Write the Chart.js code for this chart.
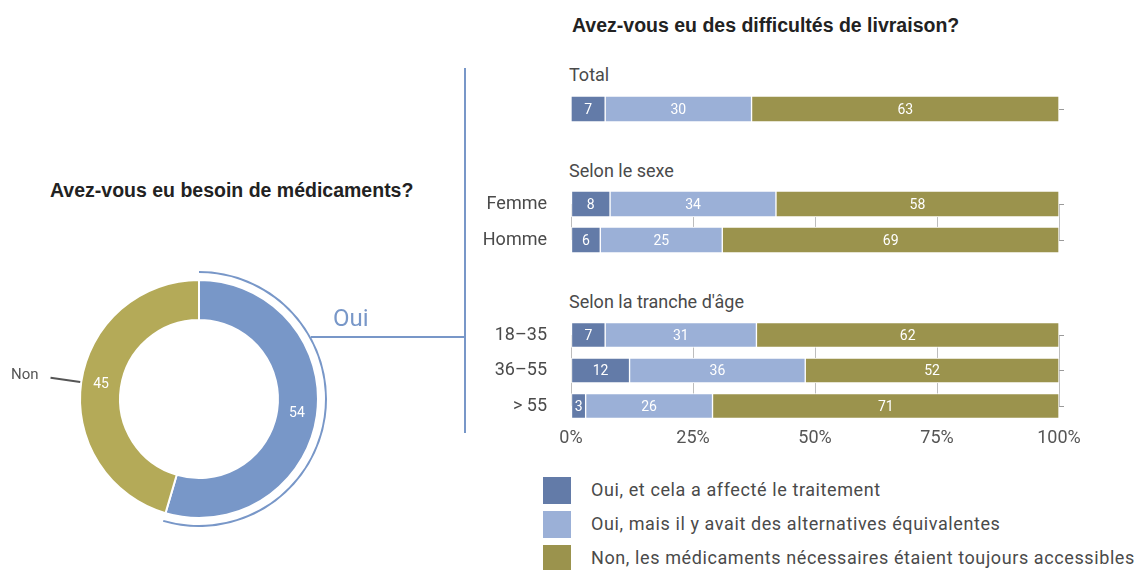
<!DOCTYPE html>
<html lang="fr">
<head>
<meta charset="utf-8">
<title>Médicaments et livraison</title>
<script src="https://cdn.jsdelivr.net/npm/chart.js@4"></script>
<style>
  body { margin: 0; background: #fff; font-family: Roboto, sans-serif; color: #4a4a4a; }
  #page { position: relative; width: 1143px; height: 570px; overflow: hidden; }
  .abs { position: absolute; white-space: nowrap; line-height: 20px; }
  .title { font-family: "Liberation Sans", Arial, sans-serif; font-weight: bold; font-size: 19.5px; color: #222; }
  .group { font-size: 18px; color: #4a4a4a; }
  .chartbox { position: absolute; }
  .line { position: absolute; background: #7897c8; }
  .legend-item { position: absolute; left: 543px; height: 27px; }
  .legend-item span.sw { position: absolute; left: 0; top: 0; width: 28px; height: 27px; }
  .legend-item span.tx { position: absolute; left: 48px; top: 3px; font-size: 18px; line-height: 20px; letter-spacing: 0.6px; white-space: nowrap; color: #4a4a4a; }
</style>
</head>
<body>
<div id="page">
  <div class="abs title" style="left:50px; top:180px;">Avez-vous eu besoin de médicaments?</div>
  <div class="abs title" style="left:572px; top:15px;">Avez-vous eu des difficultés de livraison?</div>

  <div class="chartbox" style="left:0; top:270px; width:398px; height:258px;"><canvas id="donut"></canvas></div>
  <div class="line" style="left:311px; top:336px; width:155px; height:2px;"></div>
  <div class="line" style="left:464px; top:68px; width:2px; height:365px;"></div>
  <div class="abs" id="ouiLabel" style="left:333px; top:305px; font-size:24px; line-height:26px; color:#7897c8;"></div>

  <div class="abs group" id="g0" style="left:569px; top:65px;"></div>
  <div class="abs group" id="g1" style="left:569px; top:161px;"></div>
  <div class="abs group" id="g2" style="left:569px; top:292px;"></div>

  <div class="chartbox" style="left:470px; top:96px; width:673px; height:26px;"><canvas id="barsTotal"></canvas></div>
  <div class="chartbox" style="left:470px; top:186px; width:673px; height:72px;"><canvas id="barsSexe"></canvas></div>
  <div class="chartbox" style="left:470px; top:317px; width:673px; height:131px;"><canvas id="barsAge"></canvas></div>

  <div id="legend"></div>
</div>

<script>
// donut: Avez-vous eu besoin de médicaments?
const donutLabels = ['Oui', 'Non'];
const donutValues = [54, 45];

// bars: Avez-vous eu des difficultés de livraison?
const seriesNames = [
  'Oui, et cela a affecté le traitement',
  'Oui, mais il y avait des alternatives équivalentes',
  'Non, les médicaments nécessaires étaient toujours accessibles'
];
const groupTitles = ['Total', 'Selon le sexe', "Selon la tranche d'âge"];

const totalLabels = ['Total'];
const totalAffecte = [7];
const totalAlternatives = [30];
const totalAccessible = [63];

const sexeLabels = ['Femme', 'Homme'];
const sexeAffecte = [8, 6];
const sexeAlternatives = [34, 25];
const sexeAccessible = [58, 69];

const ageLabels = ['18–35', '36–55', '> 55'];
const ageAffecte = [7, 12, 3];
const ageAlternatives = [31, 36, 26];
const ageAccessible = [62, 52, 71];

const xTicks = [0, 25, 50, 75, 100];

const donutColors = ['#7897c8', '#b4aa58'];
const barColors = ['#637ba8', '#9bb0d7', '#9b934d'];

Chart.defaults.font.family = 'Roboto, sans-serif';
Chart.defaults.color = '#4a4a4a';

// white numbers inside the donut + "Non" leader line
const donutText = {
  id: 'donutText',
  afterDatasetsDraw(chart) {
    const ctx = chart.ctx;
    const meta = chart.getDatasetMeta(2);
    ctx.save();
    ctx.font = '14px Roboto, sans-serif';
    ctx.fillStyle = '#fff';
    ctx.textAlign = 'center';
    ctx.textBaseline = 'middle';
    meta.data.forEach((arc, i) => {
      const p = arc.tooltipPosition();
      ctx.fillText(donutValues[i], p.x, p.y);
    });
    // leader for the second slice
    const arc = meta.data[1];
    const a = (arc.startAngle + arc.endAngle) / 2;
    const r = arc.outerRadius;
    ctx.strokeStyle = '#555';
    ctx.lineWidth = 2;
    ctx.beginPath();
    ctx.moveTo(arc.x + Math.cos(a) * (r + 1), arc.y + Math.sin(a) * (r + 1));
    ctx.lineTo(arc.x + Math.cos(a) * (r + 31), arc.y + Math.sin(a) * (r + 31));
    ctx.stroke();
    ctx.font = '15px Roboto, sans-serif';
    ctx.fillStyle = '#555';
    ctx.textAlign = 'right';
    ctx.fillText(donutLabels[1], arc.x + Math.cos(a) * (r + 43), arc.y + Math.sin(a) * (r + 43) - 1);
    ctx.restore();
  }
};

new Chart(document.getElementById('donut'), {
  type: 'doughnut',
  data: {
    labels: donutLabels,
    datasets: [
      { data: donutValues, backgroundColor: [donutColors[0], 'rgba(0,0,0,0)'], borderWidth: 0, weight: 2 },
      { data: donutValues, backgroundColor: ['rgba(0,0,0,0)', 'rgba(0,0,0,0)'], borderWidth: 0, weight: 7 },
      { data: donutValues, backgroundColor: donutColors, borderColor: '#fff', borderWidth: 2, weight: 40 }
    ]
  },
  options: {
    responsive: true,
    maintainAspectRatio: false,
    animation: false,
    events: [],
    radius: 128,
    cutout: '61.7%',
    hoverOffset: 0,
    plugins: { legend: { display: false }, tooltip: { enabled: false } }
  },
  plugins: [donutText]
});

document.getElementById('ouiLabel').textContent = donutLabels[0];

// white values inside the bar segments
const barText = {
  id: 'barText',
  afterDatasetsDraw(chart) {
    const ctx = chart.ctx;
    ctx.save();
    ctx.font = '14px Roboto, sans-serif';
    ctx.fillStyle = '#fff';
    ctx.textAlign = 'center';
    ctx.textBaseline = 'middle';
    chart.data.datasets.forEach((ds, di) => {
      chart.getDatasetMeta(di).data.forEach((bar, i) => {
        ctx.fillText(ds.data[i], (bar.x + bar.base) / 2, bar.y + 1);
      });
    });
    ctx.restore();
  }
};

function makeBars(id, labels, affecte, alternatives, accessible, opt) {
  const data = [affecte, alternatives, accessible];
  return new Chart(document.getElementById(id), {
    type: 'bar',
    data: {
      labels: labels,
      datasets: data.map((d, i) => ({
        label: seriesNames[i],
        data: d,
        backgroundColor: barColors[i],
        borderColor: '#fff',
        borderWidth: 1,
        borderSkipped: false,
        barThickness: opt.thickness,
        clip: false
      }))
    },
    options: {
      indexAxis: 'y',
      responsive: true,
      maintainAspectRatio: false,
      animation: false,
      events: [],
      layout: { padding: { top: opt.padTop, bottom: opt.padBottom, right: 79, left: 0 } },
      scales: {
        x: {
          stacked: true,
          min: 0,
          max: 100,
          display: opt.showGrid || opt.showTicks,
          afterBuildTicks: s => { s.ticks = xTicks.map(v => ({ value: v })); },
          afterFit: s => { s.height = opt.showTicks ? 42 : 0; },
          border: { display: false },
          grid: { display: opt.showGrid, drawTicks: false, color: '#bdbdbd', lineWidth: 1 },
          ticks: {
            display: opt.showTicks,
            padding: 22,
            maxRotation: 0,
            font: { size: 18 },
            color: '#555',
            callback: v => v + '%'
          }
        },
        y: {
          stacked: true,
          offset: opt.offset,
          afterFit: s => { s.width = 101; },
          border: { display: false },
          // tickLength gives the gap between labels and bars
          grid: { display: false, drawTicks: true, tickLength: 24 },
          ticks: { display: opt.showLabels, autoSkip: false, padding: 0, font: { size: 18 }, color: '#4a4a4a' }
        },
        // small marks at the right end of each row
        yRight: {
          type: 'category',
          position: 'right',
          offset: opt.offset,
          border: { display: false },
          grid: { offset: false, drawOnChartArea: false, drawTicks: true, tickLength: 5, color: '#9a9a9a' },
          ticks: { display: false },
          afterFit: s => { s.width = 5; }
        }
      },
      plugins: { legend: { display: false }, tooltip: { enabled: false } }
    },
    plugins: [barText]
  });
}

makeBars('barsTotal', totalLabels, totalAffecte, totalAlternatives, totalAccessible,
  { thickness: 26, padTop: 0, padBottom: 0, offset: true, showGrid: false, showTicks: false, showLabels: false });
makeBars('barsSexe', sexeLabels, sexeAffecte, sexeAlternatives, sexeAccessible,
  { thickness: 26, padTop: 18, padBottom: 18, offset: false, showGrid: true, showTicks: false, showLabels: true });
makeBars('barsAge', ageLabels, ageAffecte, ageAlternatives, ageAccessible,
  { thickness: 25, padTop: 18, padBottom: 0, offset: false, showGrid: true, showTicks: true, showLabels: true });

// group headings and legend
groupTitles.forEach((t, i) => { document.getElementById('g' + i).textContent = t; });
const legend = document.getElementById('legend');
seriesNames.forEach((name, i) => {
  const item = document.createElement('div');
  item.className = 'legend-item';
  item.style.top = (477 + i * 34) + 'px';
  item.innerHTML = '<span class="sw" style="background:' + barColors[i] + '"></span><span class="tx"></span>';
  item.querySelector('.tx').textContent = name;
  legend.appendChild(item);
});
</script>
</body>
</html>
